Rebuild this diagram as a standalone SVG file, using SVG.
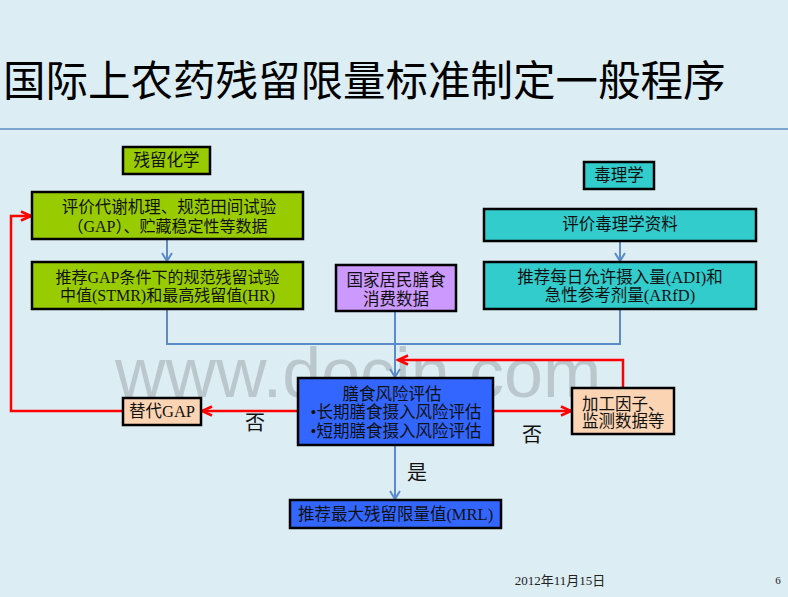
<svg xmlns="http://www.w3.org/2000/svg" width="788" height="597" viewBox="0 0 788 597">
<defs>
<style>
.bg{fill:#DCEEF4}
.box{stroke:#000;stroke-width:2.5}
.green{fill:#99CC00}
.cyan{fill:#33CCCC}
.purple{fill:#CC99FF}
.blue{fill:#3366FF}
.peach{fill:#FBD4B4}
.t{font-family:"Liberation Serif","Noto Sans CJK SC",serif;font-size:16.5px;fill:#111;text-anchor:middle;dominant-baseline:central}
.s{font-size:16px}
.lbl{font-family:"Liberation Serif","Noto Sans CJK SC",serif;font-size:20px;fill:#111;text-anchor:middle;dominant-baseline:central}
.cb{fill:none;stroke:#5B8BC9;stroke-width:2}
.cr{fill:none;stroke:#FF0000;stroke-width:2.5}
</style>
<marker id="ab" markerWidth="12" markerHeight="12" refX="10" refY="6" orient="auto" markerUnits="userSpaceOnUse">
<path d="M2,1 L10,6 L2,11" fill="none" stroke="#5B8BC9" stroke-width="2"/>
</marker>
<marker id="ar" markerWidth="14" markerHeight="12" refX="12" refY="6" orient="auto" markerUnits="userSpaceOnUse">
<path d="M2,1.5 L12,6 L2,10.5" fill="none" stroke="#FF0000" stroke-width="2.5"/>
</marker>
</defs>
<rect class="bg" x="0" y="0" width="788" height="597"/>
<text x="3" y="77" font-family="'Noto Sans CJK SC','Noto Sans',sans-serif" font-size="42.5" fill="#000" dominant-baseline="central">国际上农药残留限量标准制定一般程序</text>
<line x1="0" y1="129" x2="788" y2="129" stroke="#5B8BC9" stroke-width="1.5"/>
<text x="115" y="397" font-family="'Liberation Sans',Arial,sans-serif" font-size="70" fill="#9AA4A8" opacity="0.5">www.docin.com</text>

<g id="connectors">
<path class="cb" d="M167,239 V261" marker-end="url(#ab)"/>
<path class="cb" d="M620,241 V261" marker-end="url(#ab)"/>
<path class="cb" d="M167,309 V344 H620 V309"/>
<path class="cb" d="M395,311 V377" marker-end="url(#ab)"/>
<path class="cb" d="M395,445 V499" marker-end="url(#ab)"/>
<path class="cr" d="M623,388 V360 H398" marker-end="url(#ar)"/>
<path class="cr" d="M493,411 H571" marker-end="url(#ar)"/>
<path class="cr" d="M298,411 H202" marker-end="url(#ar)"/>
<path class="cr" d="M123,411 H11 V216 H31" marker-end="url(#ar)"/>
</g>

<g id="label-chem">
<rect class="box green" x="123" y="147" width="87" height="27"/>
<text class="t" x="166.5" y="160.5">残留化学</text>
</g>
<g id="eval-chem">
<rect class="box green" x="32" y="192" width="271" height="47"/>
<text class="t" x="169" y="207">评价代谢机理、规范田间试验</text>
<text class="t s" x="167.5" y="226">（GAP）、贮藏稳定性等数据</text>
</g>
<g id="stmr">
<rect class="box green" x="32" y="262" width="271" height="47"/>
<text class="t s" x="167.5" y="277">推荐GAP条件下的规范残留试验</text>
<text class="t s" x="167.5" y="295">中值(STMR)和最高残留值(HR)</text>
</g>
<g id="consumption">
<rect class="box purple" x="336" y="265" width="120" height="46"/>
<text class="t" x="396" y="280">国家居民膳食</text>
<text class="t" x="396" y="299">消费数据</text>
</g>
<g id="label-tox">
<rect class="box cyan" x="584" y="162" width="70" height="27"/>
<text class="t" x="619" y="175.5">毒理学</text>
</g>
<g id="eval-tox">
<rect class="box cyan" x="484" y="209" width="272" height="32"/>
<text class="t" x="620" y="224">评价毒理学资料</text>
</g>
<g id="adi">
<rect class="box cyan" x="484" y="262" width="272" height="47"/>
<text class="t" x="620" y="277">推荐每日允许摄入量(ADI)和</text>
<text class="t" x="620" y="295">急性参考剂量(ARfD)</text>
</g>
<g id="risk">
<rect class="box blue" x="298" y="378" width="195" height="67"/>
<text class="t" x="392" y="394">膳食风险评估</text>
<text class="t" x="396" y="412">•长期膳食摄入风险评估</text>
<text class="t" x="396" y="431">•短期膳食摄入风险评估</text>
</g>
<g id="alt-gap">
<rect class="box peach" x="123" y="398" width="78" height="27"/>
<text class="t" x="162" y="411.5">替代GAP</text>
</g>
<g id="processing">
<rect class="box peach" x="572" y="388" width="102" height="46"/>
<text class="t" x="582" y="404" style="text-anchor:start">加工因子、</text>
<text class="t" x="582" y="421" style="text-anchor:start">监测数据等</text>
</g>
<g id="mrl">
<rect class="box blue" x="290" y="500" width="211" height="28"/>
<text class="t" x="395.5" y="514">推荐最大残留限量值(MRL)</text>
</g>
<text class="lbl" x="255" y="423">否</text>
<text class="lbl" x="532" y="435">否</text>
<text class="lbl" x="417" y="473">是</text>
<text x="560" y="580" font-family="'Liberation Serif','Noto Sans CJK SC',serif" font-size="13" fill="#222" text-anchor="middle" dominant-baseline="central">2012年11月15日</text>
<text x="778" y="580" font-family="'Liberation Serif',serif" font-size="11" fill="#222" text-anchor="middle" dominant-baseline="central">6</text>
</svg>
